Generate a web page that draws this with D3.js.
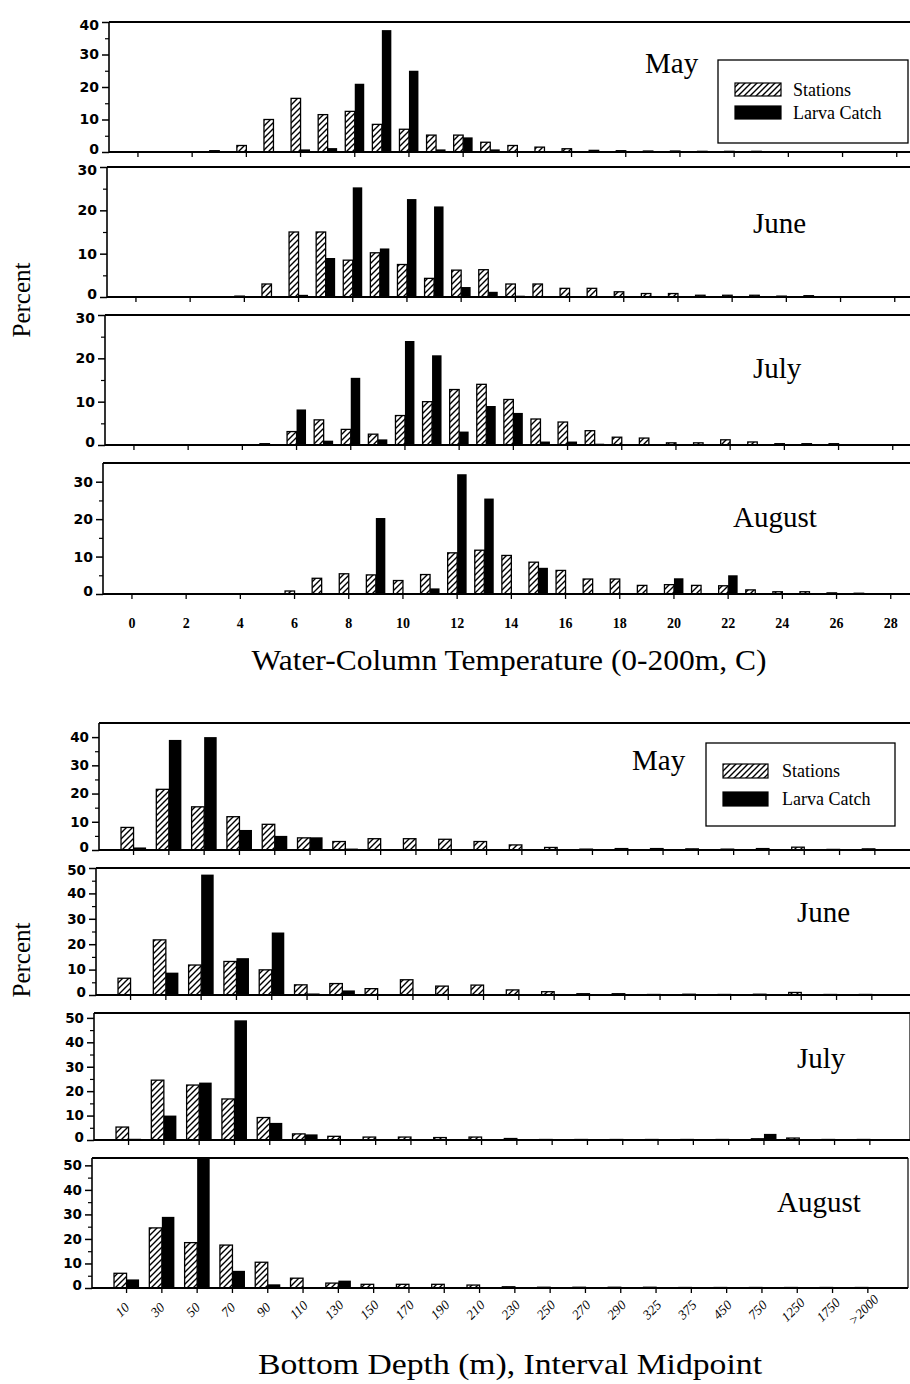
<!DOCTYPE html>
<html><head><meta charset="utf-8">
<script src="https://cdn.jsdelivr.net/npm/d3@7"></script>
<style>body{margin:0;background:#fff} svg{display:block}</style>
</head><body>
<svg id="chart" width="910" height="1384"></svg>
<script>
// ---------------- DATA ----------------
const tempCategories = d3.range(0, 29).map(String);
const tempTickLabels = ["0","2","4","6","8","10","12","14","16","18","20","22","24","26","28"];
const monthNames = ["May","June","July","August"];
const seriesNames = ["Stations","Larva Catch"];

const stationsTempMay    = [0,0,0,0.4,2,10,16.5,11.5,12.5,8.5,7,5.2,5.2,3,2,1.5,1,0.5,0.4,0.3,0.3,0.2,0.2,0.2,0.1,0.1,0,0,0];
const larvaTempMay       = [0,0,0,0,0,0,0.8,1.2,21,37.5,25,0.8,4.5,0.8,0.3,0.2,0,0,0,0,0,0,0,0,0,0,0,0,0];
const stationsTempJune   = [0,0,0,0,0.2,3,15,15,8.5,10.2,7.5,4.3,6.2,6.3,3,3,2,2,1.2,0.8,0.8,0.4,0.4,0.4,0.2,0.3,0,0,0];
const larvaTempJune      = [0,0,0,0,0,0,0.5,9,25.3,11.2,22.6,20.9,2.3,1.2,0.3,0,0,0,0,0,0,0,0,0,0,0,0,0,0];
const stationsTempJuly   = [0,0,0,0,0,0.3,3.1,5.8,3.6,2.5,6.8,10,12.8,14,10.5,6,5.3,3.3,1.8,1.6,0.5,0.5,1.2,0.7,0.3,0.3,0.3,0,0];
const larvaTempJuly      = [0,0,0,0,0,0,8.2,1,15.5,1.3,24,20.7,3.1,9,7.4,0.8,0.8,0.3,0,0,0,0,0,0,0,0,0,0,0];
const stationsTempAugust = [0,0,0,0,0,0,0.8,4.2,5.4,5.1,3.6,5.2,11,11.7,10.3,8.5,6.3,4,4,2.3,2.5,2.3,2.2,1.1,0.6,0.6,0.3,0.2,0];
const larvaTempAugust    = [0,0,0,0,0,0,0,0,0,20.3,0,1.5,32,25.5,0,7,0,0,0,0,4.2,0,5,0,0,0,0,0,0];

const depthCategories = ["10","30","50","70","90","110","130","150","170","190","210","230","250","270","290","325","375","450","750","1250","1750",">2000"];
const stationsDepthMay    = [8,21.5,15.3,11.8,9.1,4.3,3,4,4,3.8,3,1.8,0.9,0.3,0.5,0.5,0.4,0.3,0.5,1,0.2,0.4];
const larvaDepthMay       = [0.9,39,40,7.1,5,4.5,0.5,0,0.2,0,0,0,0.2,0,0,0,0,0,0,0,0,0];
const stationsDepthJune   = [6.6,21.7,11.8,13.2,9.9,4,4.5,2.5,6,3.5,3.9,2,1.3,0.5,0.5,0.2,0.3,0.2,0.3,1,0.2,0.2];
const larvaDepthJune      = [0.3,8.8,47.4,14.5,24.6,0.6,1.8,0,0,0,0,0,0,0,0,0,0,0,0,0,0,0];
const stationsDepthJuly   = [5.3,24.5,22.5,16.8,9.2,2.5,1.5,1.2,1.2,1,1.2,0.6,0.2,0.2,0.2,0.2,0.2,0.2,0.5,0.8,0.2,0.2];
const larvaDepthJuly      = [0.5,10,23.5,49,7,2.3,0.3,0,0,0,0,0,0,0,0,0,0,0,2.5,0,0,0];
const stationsDepthAugust = [6,24.5,18.5,17.5,10.5,4,2,1.5,1.5,1.5,1.2,0.5,0.3,0.3,0.3,0.3,0.2,0.2,0.2,0.2,0.2,0.2];
const larvaDepthAugust    = [3.5,29,53,7,1.5,0,3,0,0,0,0,0,0,0,0,0,0,0,0,0,0,0];

const tempTitle = "Water-Column Temperature (0-200m, C)";
const depthTitle = "Bottom Depth (m), Interval Midpoint";
const yTitle = "Percent";

// ---------------- DRAW ----------------
const svg = d3.select("#chart");
const defs = svg.append("defs");
defs.append("pattern").attr("id","hatch").attr("patternUnits","userSpaceOnUse")
  .attr("width",6).attr("height",6)
  .append("path").attr("d","M-1,1 l2,-2 M0,6 l6,-6 M5,7 l2,-2")
  .attr("stroke","#000").attr("stroke-width",1.4);

const serif = "'Liberation Serif','Times New Roman',serif";
const sansBold = "'DejaVu Sans',sans-serif";

const xTemp = d3.scaleBand().domain(tempCategories)
  .range([118.4, 118.4 + 29*27.1]).paddingInner(0.3).paddingOuter(0.15);
const xDepth = d3.scaleBand().domain(depthCategories)
  .range([115.9, 115.9 + 22*35.3]).paddingInner(0.29).paddingOuter(0.145);

const tempPanels = [
  {month:0, st:stationsTempMay,    lc:larvaTempMay,    top:22,  base:152, ymax:40, ticks:[0,10,20,30,40], dx:6, lx:645, ly:73},
  {month:1, st:stationsTempJune,   lc:larvaTempJune,   top:167, base:297, ymax:30, ticks:[0,10,20,30],    dx:4, lx:753, ly:233},
  {month:2, st:stationsTempJuly,   lc:larvaTempJuly,   top:315, base:445, ymax:30, ticks:[0,10,20,30],    dx:2, lx:753, ly:378},
  {month:3, st:stationsTempAugust, lc:larvaTempAugust, top:463, base:594, ymax:35, ticks:[0,10,20,30],    dx:0, lx:733, ly:527}
];
const depthPanels = [
  {month:0, st:stationsDepthMay,    lc:larvaDepthMay,    top:723,  base:850,  ymax:45, ticks:[0,10,20,30,40],    dx:0,  lx:632, ly:770, rb:false},
  {month:1, st:stationsDepthJune,   lc:larvaDepthJune,   top:868,  base:995,  ymax:50, ticks:[0,10,20,30,40,50], dx:-3, lx:797, ly:922, rb:true},
  {month:2, st:stationsDepthJuly,   lc:larvaDepthJuly,   top:1013, base:1140, ymax:52, ticks:[0,10,20,30,40,50], dx:-5, lx:797, ly:1068, rb:true},
  {month:3, st:stationsDepthAugust, lc:larvaDepthAugust, top:1158, base:1288, ymax:53, ticks:[0,10,20,30,40,50], dx:-7, lx:777, ly:1212, rb:true}
];

function drawPanel(p, x, cats, axisX, rightX, xTickVals, isLast, kind, fs) {
  const g = svg.append("g").attr("transform", `translate(${p.dx},0)`);
  const y = d3.scaleLinear().domain([0, p.ymax]).range([p.base, p.top]);
  const inner = d3.scaleBand().domain(seriesNames).range([0, x.bandwidth()]);
  g.append("line").attr("x1", axisX).attr("x2", rightX).attr("y1", p.top).attr("y2", p.top)
    .attr("stroke","#000").attr("stroke-width",2.2);
  g.append("line").attr("x1", axisX).attr("x2", rightX).attr("y1", p.base).attr("y2", p.base)
    .attr("stroke","#000").attr("stroke-width",2);
  g.append("line").attr("x1", axisX).attr("x2", axisX).attr("y1", p.top).attr("y2", p.base)
    .attr("stroke","#000").attr("stroke-width",1.6);
  if (p.rb) g.append("line").attr("x1", rightX).attr("x2", rightX).attr("y1", p.top).attr("y2", p.base)
    .attr("stroke","#000").attr("stroke-width",1.2);
  const idx = d3.range(cats.length);
  g.selectAll("rect.st").data(idx.filter(i => p.st[i] > 0)).join("rect")
    .attr("class","st")
    .attr("x", i => x(cats[i]) + inner(seriesNames[0]))
    .attr("y", i => y(p.st[i]))
    .attr("width", inner.bandwidth())
    .attr("height", i => Math.max(0.6, y(0) - y(p.st[i])))
    .attr("fill","url(#hatch)").attr("stroke","#000").attr("stroke-width",1.3);
  g.selectAll("rect.lc").data(idx.filter(i => p.lc[i] > 0)).join("rect")
    .attr("class","lc")
    .attr("x", i => x(cats[i]) + inner(seriesNames[1]))
    .attr("y", i => y(p.lc[i]))
    .attr("width", inner.bandwidth())
    .attr("height", i => Math.max(0.6, y(0) - y(p.lc[i])))
    .attr("fill","#000");
  const ya = g.append("g").attr("transform", `translate(${axisX},0)`)
    .call(d3.axisLeft(y).tickValues(p.ticks).tickSize(7).tickPadding(3).tickFormat(d3.format("d")));
  ya.select(".domain").remove();
  ya.selectAll("line").attr("stroke-width",1.5);
  ya.selectAll("text").attr("font-family", sansBold).attr("font-weight","bold").attr("font-size", fs).attr("fill","#000")
    .attr("dy", d => d === 0 ? "0.12em" : (y(d) - p.top < 4 ? "0.5em" : "0.32em"));
  const minor = d3.range(5, p.ymax, 10);
  const ym = g.append("g").attr("transform", `translate(${axisX},0)`)
    .call(d3.axisLeft(y).tickValues(minor).tickSize(4).tickFormat(""));
  ym.select(".domain").remove();
  ym.selectAll("line").attr("stroke-width",1.2);
  const xa = g.append("g").attr("transform", `translate(0,${p.base})`)
    .call(d3.axisBottom(x).tickValues(xTickVals).tickSize(5)
      .tickPadding(kind === "temp" ? 19 : 6)
      .tickFormat(isLast ? (d => d) : ""));
  xa.select(".domain").remove();
  xa.selectAll("line").attr("stroke-width",1.3);
  if (isLast) {
    if (kind === "temp") {
      xa.selectAll("text").attr("font-family", serif).attr("font-weight","bold")
        .attr("font-size",14).attr("fill","#000");
    } else {
      xa.selectAll("text").attr("y",0).attr("dy",null)
        .attr("transform","translate(-1,25) rotate(-45)")
        .attr("text-anchor","middle").attr("font-family", serif).attr("font-style","italic")
        .attr("font-size",13.5).attr("fill","#000");
    }
  }
  g.append("text").attr("x", p.lx - p.dx).attr("y", p.ly).text(monthNames[p.month])
    .attr("font-family", serif).attr("font-size",29).attr("fill","#000");
}

tempPanels.forEach((p, k) => drawPanel(p, xTemp, tempCategories, 103, 912,
  tempTickLabels, k === tempPanels.length - 1, "temp", 14));
depthPanels.forEach((p, k) => drawPanel(p, xDepth, depthCategories, 99, 915,
  depthCategories, k === depthPanels.length - 1, "depth", 13.5));

function legend(x0, y0, w, h, sy, ly, tx, sw, sh) {
  const g = svg.append("g");
  g.append("rect").attr("x",x0).attr("y",y0).attr("width",w).attr("height",h)
    .attr("fill","#fff").attr("stroke","#000").attr("stroke-width",1.3);
  const rows = [{name:seriesNames[0], fill:"url(#hatch)", y:sy}, {name:seriesNames[1], fill:"#000", y:ly}];
  rows.forEach(r => {
    g.append("rect").attr("x", x0+17).attr("y", r.y).attr("width", sw).attr("height", sh)
      .attr("fill", r.fill).attr("stroke","#000").attr("stroke-width",1.2);
    g.append("text").attr("x", tx).attr("y", r.y + sh/2 + 6).text(r.name)
      .attr("font-family", serif).attr("font-size",18).attr("fill","#000");
  });
}
legend(718, 60, 190, 83, 83, 106, 793, 46, 13);
legend(706, 743, 189, 83, 764, 792, 782, 45, 14);

svg.append("text").attr("x",509).attr("y",670).attr("text-anchor","middle")
  .attr("font-family",serif).attr("font-size",29).attr("textLength",515).attr("lengthAdjust","spacingAndGlyphs")
  .text(tempTitle);
svg.append("text").attr("x",510).attr("y",1374).attr("text-anchor","middle")
  .attr("font-family",serif).attr("font-size",29).attr("textLength",504).attr("lengthAdjust","spacingAndGlyphs")
  .text(depthTitle);
[300, 960].forEach(cy => {
  svg.append("text").attr("transform",`translate(30,${cy}) rotate(-90)`).attr("text-anchor","middle")
    .attr("font-family",serif).attr("font-size",25).text(yTitle);
});
</script>
</body></html>
